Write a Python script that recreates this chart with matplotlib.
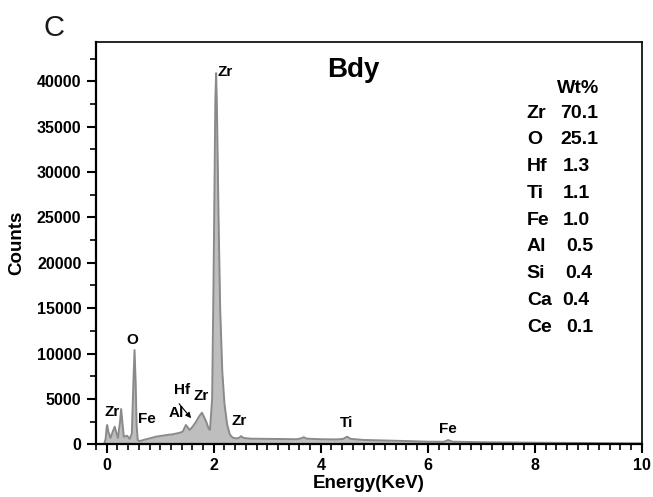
import numpy as np
import matplotlib.pyplot as plt
from matplotlib.ticker import MultipleLocator

plt.rcParams['font.family'] = ['Liberation Sans', 'DejaVu Sans']
plt.rcParams['font.weight'] = 'bold'

# EDS spectrum (energy in keV, counts)
energy = [-0.05, -0.02, 0.00, 0.01, 0.03, 0.07, 0.12, 0.15, 0.18, 0.21,
          0.25, 0.27, 0.30, 0.32, 0.36, 0.38, 0.43, 0.47, 0.50, 0.52,
          0.54, 0.56, 0.58, 0.61, 0.70, 0.80, 0.92, 1.05, 1.15, 1.23,
          1.35, 1.42, 1.48, 1.51, 1.55, 1.60, 1.67, 1.73, 1.78, 1.82,
          1.86, 1.90, 1.93, 1.97, 2.00, 2.03, 2.045, 2.06, 2.09, 2.12,
          2.16, 2.20, 2.25, 2.30, 2.35, 2.42, 2.47, 2.51, 2.56, 2.70,
          3.00, 3.30, 3.55, 3.63, 3.68, 3.74, 4.00, 4.30, 4.42, 4.49,
          4.56, 4.80, 5.20, 5.60, 6.00, 6.30, 6.38, 6.46, 7.00, 8.00,
          9.00, 10.00]
counts = [0, 600, 1900, 2130, 1400, 700, 1500, 1940, 1300, 700,
          2500, 3890, 2000, 840, 900, 950, 600, 1200, 7000, 10390,
          7000, 2000, 470, 350, 500, 650, 840, 960, 1050, 1100,
          1250, 1390, 2130, 1900, 1580, 1900, 2490, 3100, 3480, 3000,
          2490, 1800, 1580, 5000, 20000, 38000, 40900, 37000, 25000, 15000,
          8000, 4500, 2200, 1100, 750, 650, 700, 900, 700, 620,
          600, 580, 560, 650, 780, 620, 560, 540, 600, 840,
          600, 480, 420, 360, 290, 280, 470, 290, 230, 180,
          140, 100]

# peak labels: text, x, y (label centre)
peak_labels = [("Zr", 2.22, 41030), ("O", 0.48, 11500), ("Zr", 0.11, 3560),
               ("Fe", 0.76, 2790), ("Al", 1.30, 3450), ("Hf", 1.41, 5980),
               ("Zr", 1.77, 5320), ("Zr", 2.47, 2570), ("Ti", 4.48, 2350),
               ("Fe", 6.38, 1690)]

# composition table
elements = ["Zr", "O", "Hf", "Ti", "Fe", "Al", "Si", "Ca", "Ce"]
wt_pct = ["70.1", "25.1", "1.3", "1.1", "1.0", "0.5", "0.4", "0.4", "0.1"]
value_x = [8.47, 8.47, 8.52, 8.52, 8.52, 8.58, 8.56, 8.52, 8.58]

fig = plt.figure(figsize=(6.53, 4.97), dpi=100)
ax = fig.add_axes([0.147, 0.106, 0.836, 0.8095])

ax.fill_between(energy, counts, 0, color='#bebebe', lw=0)
ax.plot(energy, counts, color='#8a8a8a', lw=1.4)

ax.set_xlim(-0.2, 10)
ax.set_ylim(0, 44330)
ax.xaxis.set_major_locator(MultipleLocator(2))
ax.xaxis.set_minor_locator(MultipleLocator(0.2))
ax.yaxis.set_major_locator(MultipleLocator(5000))
ax.yaxis.set_minor_locator(MultipleLocator(2500))
ax.tick_params(which='major', length=6.5, width=1.5, labelsize=11.5, pad=4)
ax.tick_params(axis='x', which='major', pad=3)
ax.tick_params(which='minor', length=4, width=1.2)
for s in ['left', 'bottom']:
    ax.spines[s].set_linewidth(1.6)
for s in ['top', 'right']:
    ax.spines[s].set_linewidth(1.2)
for lab in ax.get_xticklabels() + ax.get_yticklabels():
    lab.set_fontweight('bold')

ax.set_xlabel("Energy(KeV)", fontsize=13.5, fontweight='bold', va='top')
ax.set_ylabel("Counts", fontsize=13.5, fontweight='bold')
ax.xaxis.set_label_coords(0.5, -0.077)
ax.yaxis.set_label_coords(-0.13, 0.5)

for txt, x, y in peak_labels:
    ax.text(x, y, txt, fontsize=11, fontweight='bold', ha='center', va='center')
ax.annotate("", xy=(1.61, 2650), xytext=(1.32, 4700),
            arrowprops=dict(arrowstyle='-|>', color='black', lw=0.8,
                            mutation_scale=8))

ax.text(4.60, 41240, "Bdy", fontsize=20, fontweight='bold', ha='center', va='center')
ax.text(8.80, 39200, "Wt%", fontsize=14, fontweight='bold', ha='center', va='center')
for i, (el, v) in enumerate(zip(elements, wt_pct)):
    y = 36500 - i * 2950
    ax.text(7.85, y, el, fontsize=14, fontweight='bold', ha='left', va='center')
    ax.text(value_x[i], y, v, fontsize=14, fontweight='bold', ha='left', va='center')

fig.text(0.066, 0.943, "C", fontsize=21, fontweight='normal', color='#1a1a1a',
         ha='left', va='center')

fig.savefig("out.png", dpi=100)
